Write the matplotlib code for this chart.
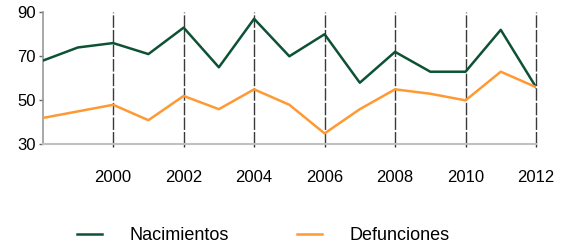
import numpy as np
import matplotlib
matplotlib.use("Agg")
from matplotlib import pyplot as plt

plt.rcParams['font.family'] = ['Liberation Sans', 'DejaVu Sans']

# data
years = list(range(1998, 2013))
nacimientos = [68, 74, 76, 71, 83, 65, 87, 70, 80, 58, 72, 63, 63, 82, 56]
defunciones = [42, 45, 48, 41, 52, 46, 55, 48, 35, 46, 55, 53, 50, 63, 56]
xticks = [2000, 2002, 2004, 2006, 2008, 2010, 2012]
yticks = [30, 50, 70, 90]

fig = plt.figure(figsize=(5.69, 2.44), dpi=100)
ax = fig.add_axes([0.075, 0.408, 0.867, 0.542])

ax.plot(years, nacimientos, color='#0d5234', lw=1.8, label='Nacimientos', zorder=3)
ax.plot(years, defunciones, color='#ff9933', lw=1.8, label='Defunciones', zorder=3)

ax.set_xlim(1998, 2012)
ax.set_ylim(30, 90)
ax.set_xticks(xticks)
ax.set_yticks(yticks)

# dashed vertical gridlines at the even years
for x in xticks:
    ax.axvline(x, color='#3a3a3a', lw=1, ls=(0, (9, 1.5)), zorder=1, clip_on=False)

for s in ['top', 'right']:
    ax.spines[s].set_visible(False)
ax.spines['left'].set_color('#999999')
ax.spines['left'].set_linewidth(1.2)
ax.spines['bottom'].set_color('#c0c0c0')
ax.spines['bottom'].set_linewidth(1.5)

ax.tick_params(axis='x', length=2.5, width=1, color='#333333', pad=16, labelsize=12)
ax.tick_params(axis='y', length=3, width=1, color='#666666', pad=2, labelsize=12)

fig.legend(loc='center', bbox_to_anchor=(0.463, 0.035), ncol=2, frameon=False,
           fontsize=13, handlelength=1.38, handletextpad=1.5, columnspacing=3.8)

fig.savefig('out.png', dpi=100)
